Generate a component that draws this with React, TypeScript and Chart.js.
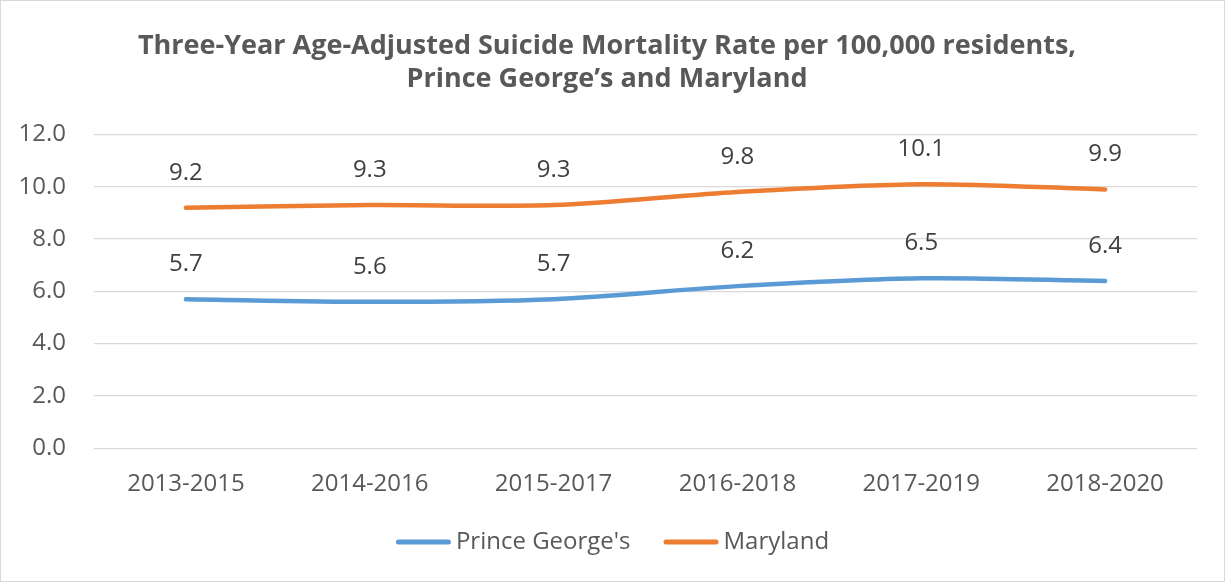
import React, { useEffect, useRef } from "react";
import { Chart, registerables } from "chart.js";

Chart.register(...registerables);

const periods = ["2013-2015", "2014-2016", "2015-2017", "2016-2018", "2017-2019", "2018-2020"];
const princeGeorges = [5.7, 5.6, 5.7, 6.2, 6.5, 6.4];
const maryland = [9.2, 9.3, 9.3, 9.8, 10.1, 9.9];
const seriesNames = ["Prince George's", "Maryland"];
const titleLines = [
  "Three-Year Age-Adjusted Suicide Mortality Rate per 100,000 residents,",
  "Prince George\u2019s and Maryland",
];

const FONT = "'Open Sans', 'Liberation Sans', sans-serif";
const BLUE = "#5b9bd5";
const ORANGE = "#ed7d31";
const TEXT = "#595959";

// Writes each point's value above it, one decimal place.
const valueLabels = {
  id: "valueLabels",
  afterDatasetsDraw(chart: any) {
    const { ctx } = chart;
    ctx.save();
    ctx.font = `24px ${FONT}`;
    ctx.fillStyle = "#404040";
    ctx.textAlign = "center";
    ctx.textBaseline = "middle";
    chart.data.datasets.forEach((ds: any, i: number) => {
      const meta = chart.getDatasetMeta(i);
      meta.data.forEach((pt: any, j: number) => {
        ctx.fillText(Number(ds.data[j]).toFixed(1), pt.x, pt.y - 35);
      });
    });
    ctx.restore();
  },
};

// Legend row under the axis: a short thick line followed by the series name.
const lineLegend = {
  id: "lineLegend",
  afterDraw(chart: any) {
    const { ctx, width } = chart;
    const swatch = 55;
    const gap = 5;
    const between = 33;
    ctx.save();
    ctx.font = `24px ${FONT}`;
    const widths = chart.data.datasets.map((ds: any) => ctx.measureText(ds.label).width);
    const total =
      widths.reduce((s: number, w: number) => s + w + swatch + gap, 0) +
      between * (widths.length - 1);
    let x = (width - total) / 2;
    const y = 541;
    chart.data.datasets.forEach((ds: any, i: number) => {
      ctx.strokeStyle = ds.borderColor;
      ctx.lineWidth = 5;
      ctx.lineCap = "round";
      ctx.beginPath();
      ctx.moveTo(x + 2.5, y);
      ctx.lineTo(x + swatch - 2.5, y);
      ctx.stroke();
      ctx.fillStyle = TEXT;
      ctx.textAlign = "left";
      ctx.textBaseline = "middle";
      ctx.fillText(ds.label, x + swatch + gap, y);
      x += swatch + gap + widths[i] + between;
    });
    ctx.restore();
  },
};

export default function App() {
  const canvasRef = useRef<HTMLCanvasElement | null>(null);

  useEffect(() => {
    document.body.style.margin = "0";
    const canvas = canvasRef.current;
    if (!canvas) return;
    const chart = new Chart(canvas, {
      type: "line",
      data: {
        labels: periods,
        datasets: [
          {
            label: seriesNames[0],
            data: princeGeorges,
            borderColor: BLUE,
            backgroundColor: BLUE,
            borderWidth: 4.5,
            borderCapStyle: "round",
            borderJoinStyle: "round",
            pointRadius: 0,
            tension: 0.3,
          },
          {
            label: seriesNames[1],
            data: maryland,
            borderColor: ORANGE,
            backgroundColor: ORANGE,
            borderWidth: 4.5,
            borderCapStyle: "round",
            borderJoinStyle: "round",
            pointRadius: 0,
            tension: 0.3,
          },
        ],
      },
      options: {
        responsive: false,
        animation: false,
        layout: { padding: { top: 28, left: 16, right: 27, bottom: 68 } },
        plugins: {
          title: {
            display: true,
            text: titleLines,
            color: TEXT,
            font: { family: FONT, size: 27, weight: "bold", lineHeight: 1.25 },
            padding: { top: 0, bottom: 38 },
          },
          legend: { display: false },
          tooltip: { enabled: false },
        },
        scales: {
          x: {
            offset: true,
            grid: { display: false },
            border: { display: false },
            ticks: { color: TEXT, font: { family: FONT, size: 24 }, padding: 14, maxRotation: 0 },
          },
          y: {
            min: 0,
            max: 12,
            afterFit: (s: any) => {
              s.width = 77;
            },
            grid: { color: "#d9d9d9", lineWidth: 1.3, drawTicks: false },
            border: { display: false },
            ticks: {
              stepSize: 2,
              color: TEXT,
              font: { family: FONT, size: 24 },
              padding: 28,
              callback: (v: any) => Number(v).toFixed(1),
            },
          },
        },
      },
      plugins: [valueLabels, lineLegend],
    });
    return () => chart.destroy();
  }, []);

  return (
    <div
      style={{
        position: "absolute",
        left: 0,
        top: 0,
        width: 1225,
        height: 582,
        boxSizing: "border-box",
        border: "1px solid #d9d9d9",
        background: "#ffffff",
      }}
    >
      <canvas ref={canvasRef} width={1223} height={580} />
    </div>
  );
}
